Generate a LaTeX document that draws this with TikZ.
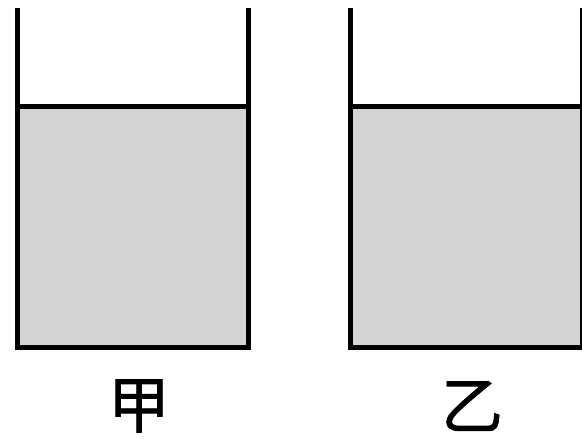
\documentclass[tikz,border=0pt]{standalone}
\usepackage{fontspec}
\newfontfamily\cjk[FakeBold=1.2]{Noto Sans CJK SC}
\definecolor{liquid}{HTML}{D4D4D4}
\tikzset{
  wall/.style={line width=5pt, line join=miter, line cap=butt},
  surface/.style={line width=5pt},
  label/.style={font=\cjk\fontsize{62}{62}\selectfont, inner sep=0pt}
}
\begin{document}
\begin{tikzpicture}[x=1pt,y=-1pt]
\useasboundingbox (0,0) rectangle (582,439);
% left beaker
\fill[liquid] (17.5,106.5) rectangle (248.5,347.5);
\draw[surface] (17.5,106.5) -- (248.5,106.5);
\draw[wall] (17.5,8) -- (17.5,347.5) -- (248.5,347.5) -- (248.5,8);
% right beaker
\fill[liquid] (350.5,106.5) rectangle (582.5,347.5);
\draw[surface] (350.5,106.5) -- (582.5,106.5);
\draw[wall] (350.5,8) -- (350.5,347.5) -- (582.5,347.5) -- (582.5,8);
% labels
\node[label] (jia) at (139,406) {甲};
\node[label] (yi) at (472,406) {乙};
\end{tikzpicture}
\end{document}
